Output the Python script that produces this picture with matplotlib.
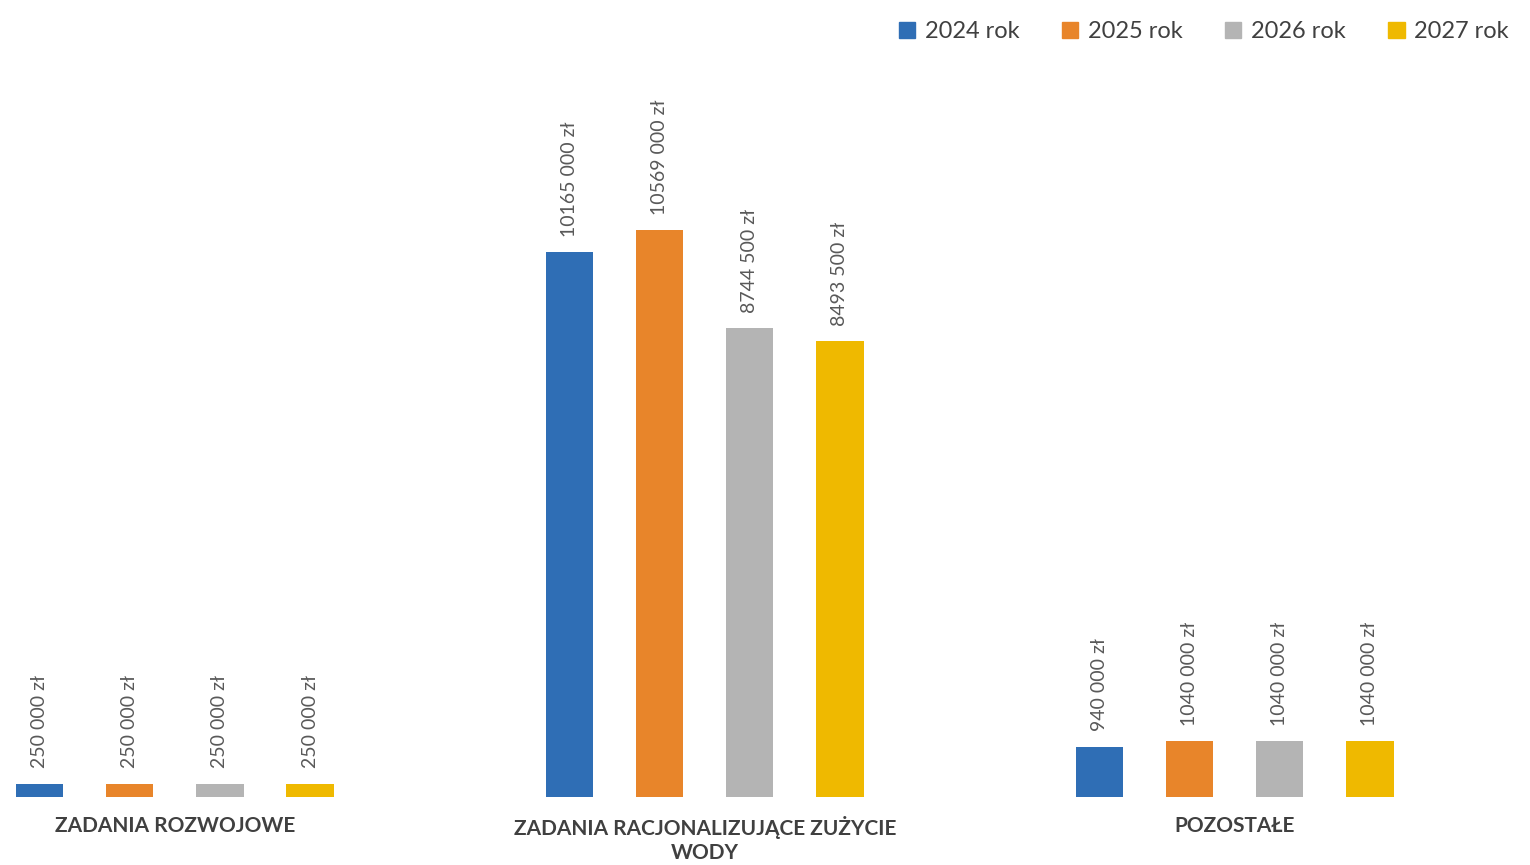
import matplotlib.pyplot as plt
from matplotlib.patches import Patch
import numpy as np

plt.rcParams['font.family'] = ['Lato', 'DejaVu Sans']

categories = ['ZADANIA ROZWOJOWE', 'ZADANIA RACJONALIZUJĄCE ZUŻYCIE\nWODY', 'POZOSTAŁE']
years = ['2024 rok', '2025 rok', '2026 rok', '2027 rok']
v2024 = [250000, 10165000, 940000]
v2025 = [250000, 10569000, 1040000]
v2026 = [250000, 8744500, 1040000]
v2027 = [250000, 8493500, 1040000]
series = [v2024, v2025, v2026, v2027]
colors = ['#2f6eb5', '#e8852a', '#b4b4b4', '#efb900']


def fmt(v):
    s = '{:,}'.format(v).replace(',', ' ')
    # millions are written without the first separator in the source
    if v >= 1000000:
        parts = s.split(' ')
        s = parts[0] + parts[1] + ' ' + ' '.join(parts[2:])
    return s + ' zł'


fig = plt.figure(figsize=(15.3, 8.65), dpi=100)
ax = fig.add_axes([0, 68 / 865, 1, 797 / 865])

x = np.arange(len(categories))
step = 0.17
width = 0.089
for i, vals in enumerate(series):
    pos = x + (i - 1.5) * step
    bars = ax.bar(pos, vals, width, color=colors[i], label=years[i])
    for b, v in zip(bars, vals):
        ax.annotate(fmt(v), (b.get_x() + b.get_width() / 2, b.get_height()),
                    xytext=(0, 11), textcoords='offset points',
                    rotation=90, ha='center', va='bottom',
                    fontsize=14, color='#595959')

ax.set_xlim(-0.33, 2.557)
ax.set_ylim(0, 14.86e6)
ax.set_xticks(x)
ax.set_xticklabels(categories, fontsize=15, color='#404040', fontweight='bold',
                   linespacing=1.25)
ax.tick_params(axis='x', length=0, pad=14)
ax.set_yticks([])
for s in ax.spines.values():
    s.set_visible(False)

handles = [Patch(color=c) for c in colors]
fig.legend(handles, years, loc='upper right', bbox_to_anchor=(1.0, 1.0), ncol=4,
           frameon=False, fontsize=17, handlelength=0.7, handleheight=0.7,
           handletextpad=0.4, columnspacing=1.8, labelcolor='#404040')

plt.savefig('out.png')
